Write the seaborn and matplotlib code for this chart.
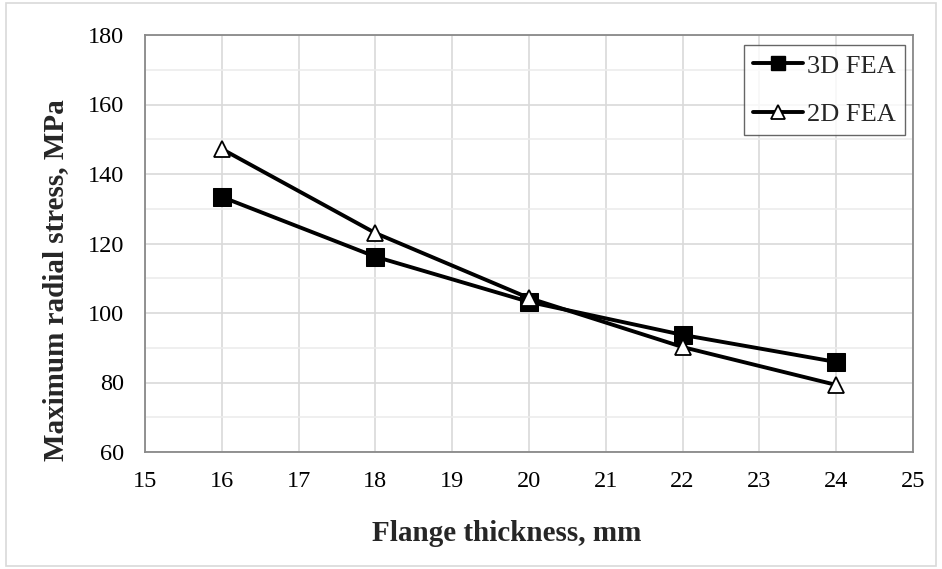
import matplotlib
matplotlib.use("Agg")
import matplotlib.pyplot as plt
import seaborn as sns
import pandas as pd
from matplotlib.ticker import MultipleLocator
from matplotlib.patches import Rectangle
from matplotlib.lines import Line2D

thickness = [16, 18, 20, 22, 24]
fea3d = [133.4, 116.2, 103.2, 93.7, 85.9]
fea2d = [147.2, 123.0, 104.3, 90.2, 79.3]
series_names = ["3D FEA", "2D FEA"]

sns.set_theme(style="white")
plt.rcParams['font.family'] = ['Liberation Serif', 'DejaVu Serif']

df = pd.DataFrame({
    "x": thickness * 2,
    "y": fea3d + fea2d,
    "s": [series_names[0]] * len(thickness) + [series_names[1]] * len(thickness),
})

fig = plt.figure(figsize=(9.42, 5.69), dpi=100)
ax = fig.add_axes([145 / 942, 1 - 452 / 569, 768 / 942, 417 / 569])

sns.lineplot(data=df, x="x", y="y", hue="s", style="s",
             palette={series_names[0]: "black", series_names[1]: "black"},
             markers={series_names[0]: "s", series_names[1]: "^"},
             dashes=False, linewidth=2.8, markersize=13, ax=ax, legend=False)
lines = ax.get_lines()
lines[0].set_markerfacecolor("black")
lines[0].set_markeredgecolor("black")
lines[1].set_markerfacecolor("white")
lines[1].set_markeredgecolor("black")
lines[1].set_markeredgewidth(1.3)
lines[1].set_markersize(12)

ax.set_xlim(15, 25)
ax.set_ylim(60, 180)
ax.xaxis.set_major_locator(MultipleLocator(1))
ax.yaxis.set_major_locator(MultipleLocator(20))
ax.yaxis.set_minor_locator(MultipleLocator(10))
ax.grid(True, which="major", color="#d9d9d9", linewidth=1.2)
ax.grid(True, which="minor", axis="y", color="#ececec", linewidth=1.2)
ax.set_axisbelow(True)
for sp in ax.spines.values():
    sp.set_color("#898989")
    sp.set_linewidth(1.3)
ax.tick_params(axis="both", which="both", length=0, labelsize=17.5, colors="black")
ax.tick_params(axis="y", pad=15)
ax.tick_params(axis="x", pad=14)
ax.set_xlabel("Flange thickness, mm", fontsize=21, fontweight="bold")
ax.set_ylabel("Maximum radial stress, MPa", fontsize=21, fontweight="bold")
ax.xaxis.set_label_coords(0.471, -0.163)
ax.yaxis.set_label_coords(-0.099, 0.412)

handles = [Line2D([], [], color="black", lw=2.8, marker="s", markersize=10, markerfacecolor="black"),
           Line2D([], [], color="black", lw=2.8, marker="^", markersize=10, markerfacecolor="white",
                  markeredgewidth=1.3)]
leg = ax.legend(handles, series_names, loc="upper right", bbox_to_anchor=(0.9896, 0.976),
                borderaxespad=0, fontsize=19, frameon=True, fancybox=False, edgecolor="#404040",
                handlelength=1.9, handletextpad=0.15, labelspacing=0.95, borderpad=0.35)
leg.get_frame().set_linewidth(1.0)

fig.patches.append(Rectangle((0.006, 0.006), 0.988, 0.988, transform=fig.transFigure,
                             fill=False, edgecolor="#d9d9d9", linewidth=1.2))
fig.savefig("out.png", dpi=100, facecolor="white")
